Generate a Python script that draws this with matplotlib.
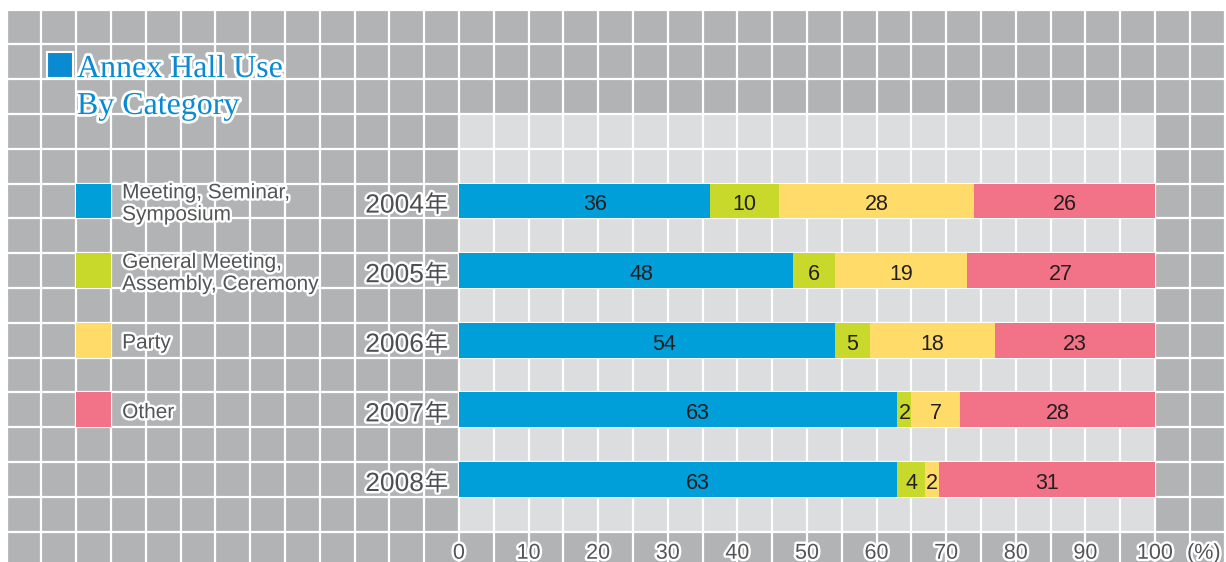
import matplotlib
matplotlib.use("Agg")
import matplotlib.pyplot as plt
import matplotlib.patches as mpatches
import matplotlib.patheffects as pe

# ---- data ----
years = ["2004", "2005", "2006", "2007", "2008"]
year_suffix = "年"
categories = ["Meeting, Seminar,\nSymposium", "General Meeting,\nAssembly, Ceremony", "Party", "Other"]
meeting = [36, 48, 54, 63, 63]
general = [10, 6, 5, 2, 4]
party = [28, 19, 18, 7, 2]
other = [26, 27, 23, 28, 31]
series = [meeting, general, party, other]
colors = ["#009fda", "#c8d92b", "#ffdc6a", "#f27387"]
label_frac = [0.545, 0.5, 0.5, 0.5]
xticks = [0, 10, 20, 30, 40, 50, 60, 70, 80, 90, 100]
title_lines = ["Annex Hall Use", "By Category"]

# ---- geometry (pixels) ----
W, H = 1226, 562
L_PX, R_PX, T_PX = 459, 1155, 114
UX = (R_PX - L_PX) / 100.0      # px per percent
CELL = 5 * UX                   # grid cell in px

fig = plt.figure(figsize=(W / 100, H / 100), dpi=100)
fig.patch.set_facecolor("white")
ax = fig.add_axes([0, 0, 1, 1])
ax.set_xlim(-L_PX / UX, (W - L_PX) / UX)
ax.set_ylim((H - T_PX) / CELL, -T_PX / CELL)
ax.axis("off")

DARK = "#b2b3b5"
LIGHT = "#dcdddf"
TXT = "#535456"
stroke = [pe.withStroke(linewidth=3.5, foreground="white")]

gx0, gy0 = -65, -3
xmax = (W - L_PX) / UX
ymax = (H - T_PX) / CELL
ax.add_patch(mpatches.Rectangle((gx0, gy0), xmax - gx0 + 5, ymax - gy0 + 1, color=DARK, zorder=0, lw=0))
n_rows = 2 * len(years) + 2
ax.add_patch(mpatches.Rectangle((0, 0), 100, n_rows, color=LIGHT, zorder=0.5, lw=0))

# white grid
x = gx0
while x <= xmax + 1:
    ax.plot([x, x], [gy0, ymax + 1], color="white", lw=1.6, zorder=1, solid_capstyle="butt")
    x += 5
y = gy0
while y <= ymax + 1:
    ax.plot([gx0, xmax + 5], [y, y], color="white", lw=1.6, zorder=1, solid_capstyle="butt")
    y += 1

# bars
ypos = [2.5 + 2 * i for i in range(len(years))]
left = [0] * len(years)
for vals, c, f in zip(series, colors, label_frac):
    ax.barh(ypos, vals, left=left, height=1.0, color=c, zorder=2, lw=0)
    for yy, l, v in zip(ypos, left, vals):
        ax.text(l + v * f, yy + 0.04, str(v), ha="center", va="center_baseline",
                fontsize=15.5, color="#231f20", family="Liberation Sans", zorder=3)
    left = [a + b for a, b in zip(left, vals)]

# year labels (number + 年)
for yy, yr in zip(ypos, years):
    ax.text(-1.55, yy + 0.06, year_suffix, ha="right", va="center_baseline", fontsize=17,
            color="#4d4e50", family="Noto Sans CJK JP",
            path_effects=stroke, zorder=3)
    ax.text(-5.05, yy + 0.06, yr, ha="right", va="center_baseline", fontsize=19,
            color="#4d4e50", family="Liberation Sans",
            path_effects=stroke, zorder=3)

# x tick labels
for t in xticks:
    ax.text(t, 12.55, str(t), ha="center", va="center_baseline", fontsize=15.5,
            color=TXT, family="Liberation Sans", path_effects=stroke, zorder=3)
ax.text(107.0, 12.55, "(%)", ha="center", va="center_baseline", fontsize=15.5,
        color=TXT, family="Liberation Sans", path_effects=stroke, zorder=3)

# legend
for i, (cat, c) in enumerate(zip(categories, colors)):
    yy = ypos[i]
    ax.add_patch(mpatches.Rectangle((-55, yy - 0.5), 5, 1, color=c, zorder=2, lw=0))
    ax.text(-48.4, yy + 0.08, cat, ha="left", va="center", fontsize=15,
            color=TXT, family="Liberation Sans", path_effects=stroke,
            linespacing=1.2, zorder=3)

# title
TB = "#0a8ad0"
ax.add_patch(mpatches.Rectangle(((47 - L_PX) / UX, (52 - T_PX) / CELL), 26 / UX, 26 / CELL,
                                facecolor=TB, edgecolor="white", lw=1.5, zorder=3))
tstroke = [pe.withStroke(linewidth=4, foreground="white")]
ax.text((77 - L_PX) / UX, (77 - T_PX) / CELL, title_lines[0], ha="left", va="baseline",
        fontsize=23, color=TB, family="Liberation Serif", path_effects=tstroke, zorder=3)
ax.text((77 - L_PX) / UX, (114 - T_PX) / CELL, title_lines[1], ha="left", va="baseline",
        fontsize=23, color=TB, family="Liberation Serif", path_effects=tstroke, zorder=3)

fig.savefig("out.png", dpi=100, facecolor=fig.get_facecolor())
